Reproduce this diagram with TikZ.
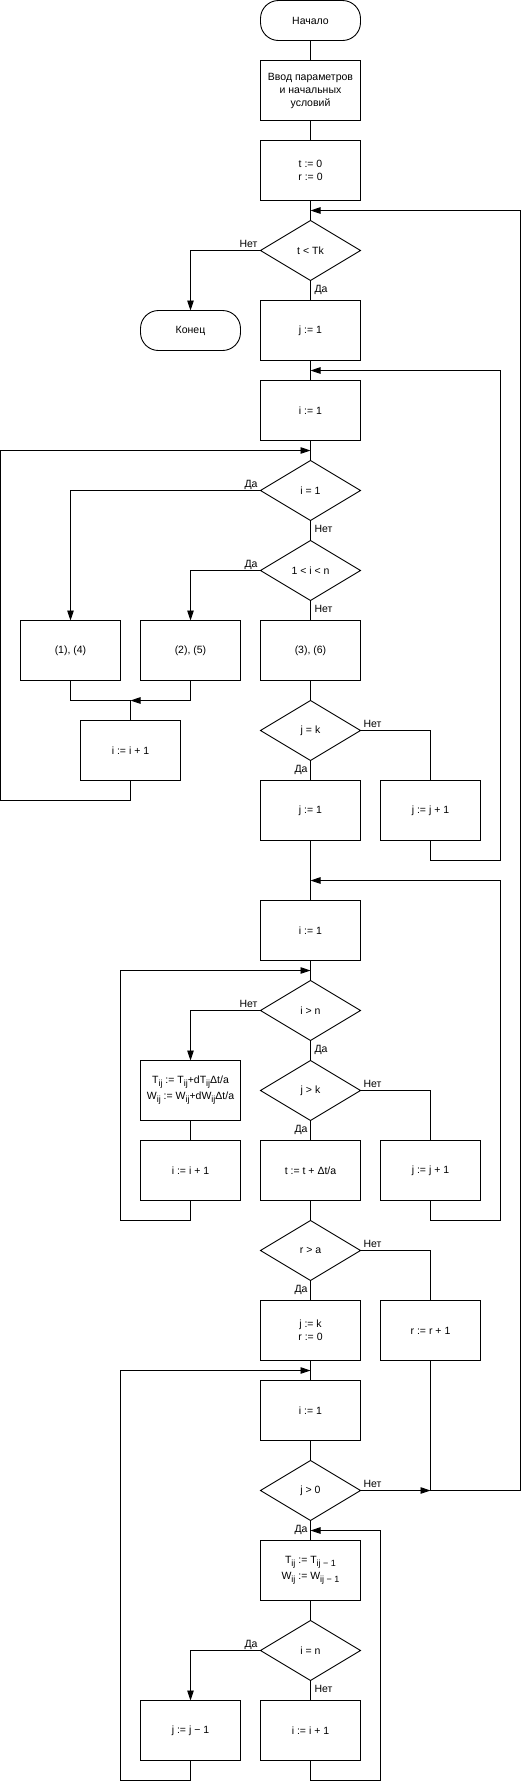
\documentclass[tikz,border=0pt]{standalone}
\usepackage{fontspec}
\setmainfont{Liberation Sans}
\usepackage{tikz}
\usetikzlibrary{arrows.meta,shapes,positioning,calc}
\usepackage{xcolor}

\newcommand{\sbs}[1]{\raisebox{-0.5ex}{\fontsize{9}{9}\selectfont #1}}

\tikzset{
  every node/.style={font=\fontsize{10.5}{13}\selectfont},
  term/.style={draw, rectangle, rounded corners=18, minimum width=100, minimum height=40, inner sep=0, outer sep=0},
  box/.style={draw, rectangle, minimum width=100, minimum height=60, inner sep=0, outer sep=0, align=center},
  cond/.style={draw, diamond, aspect=1.667, minimum width=100, minimum height=60, inner sep=0, outer sep=0},
  lbl/.style={inner sep=0, outer sep=0},
  arr/.style={-{Triangle[length=10pt,width=6.5pt]}},
}

\begin{document}
\begin{tikzpicture}[x=1pt, y=-1pt, line width=0.9pt]
    \useasboundingbox (-0.5,-0.5) rectangle (520.5,1780.5);

    % Start, input
    \node[term] (start) at (310,20) {Начало};
    \node[box] (inp) at (310,90) {Ввод параметров\\и начальных\\условий};
    \node[box] (t0) at (310,170) {t := 0\\r := 0};
    \node[cond] (d1) at (310,250) {t < Tk};
    \node[term] (fin) at (190,330) {Конец};
    \node[box] (j1) at (310,330) {j := 1};
    \node[box] (i1) at (310,410) {i := 1};

    % Inner loop over i
    \node[cond] (d2) at (310,490) {i = 1};
    \node[cond] (d3) at (310,570) {1 < i < n};
    \node[box] (b14) at (70,650) {(1), (4)};
    \node[box] (b25) at (190,650) {(2), (5)};
    \node[box] (b36) at (310,650) {(3), (6)};
    \node[box] (inc1) at (130,750) {i := i + 1};
    \node[cond] (d4) at (310,730) {j = k};
    \node[box] (j1b) at (310,810) {j := 1};
    \node[box] (jinc1) at (430,810) {j := j + 1};

    % Second pass
    \node[box] (i1b) at (310,930) {i := 1};
    \node[cond] (d5) at (310,1010) {i > n};
    \node[box] (tw) at (190,1090) {T\sbs{ij} := T\sbs{ij}+dT\sbs{ij}Δt/a\\[3pt]W\sbs{ij} := W\sbs{ij}+dW\sbs{ij}Δt/a};
    \node[cond] (d6) at (310,1090) {j > k};
    \node[box] (inc2) at (190,1170) {i := i + 1};
    \node[box] (tinc) at (310,1170) {t := t + Δt/a};
    \node[box] (jinc2) at (430,1170) {j := j + 1};
    \node[cond] (d7) at (310,1250) {r > a};
    \node[box] (jk) at (310,1330) {j := k\\r := 0};
    \node[box] (rinc) at (430,1330) {r := r + 1};

    % Shift pass
    \node[box] (i1c) at (310,1410) {i := 1};
    \node[cond] (d8) at (310,1490) {j > 0};
    \node[box] (tt) at (310,1570) {T\sbs{ij} := T\sbs{ij − 1}\\[3pt]W\sbs{ij} := W\sbs{ij − 1}};
    \node[cond] (d9) at (310,1650) {i = n};
    \node[box] (jdec) at (190,1730) {j := j − 1};
    \node[box] (inc3) at (310,1730) {i := i + 1};

    % Join points
    \coordinate (m1) at (310,210);
    \coordinate (m2) at (310,370);
    \coordinate (m3) at (310,450);
    \coordinate (mj) at (130,700);
    \coordinate (m4) at (310,880);
    \coordinate (m5) at (310,970);
    \coordinate (m6) at (310,1370);
    \coordinate (m7) at (310,1530);
    \coordinate (m8) at (430,1490);

    % Main line
    \draw (start) -- (inp);
    \draw (inp) -- (t0);
    \draw (t0) -- (d1);
    \draw (d1) -- (j1);
    \draw (j1) -- (i1);
    \draw (i1) -- (d2);
    \draw (d2) -- (d3);
    \draw (d3) -- (b36);
    \draw (b36) -- (d4);
    \draw (d4) -- (j1b);
    \draw (j1b) -- (i1b);
    \draw (i1b) -- (d5);
    \draw (d5) -- (d6);
    \draw (d6) -- (tinc);
    \draw (tinc) -- (d7);
    \draw (d7) -- (jk);
    \draw (jk) -- (i1c);
    \draw (i1c) -- (d8);
    \draw (d8) -- (tt);
    \draw (tt) -- (d9);
    \draw (d9) -- (inc3);

    % Branches
    \draw[arr] (d1.west) -| (fin.north);
    \draw[arr] (d2.west) -| (b14.north);
    \draw[arr] (d3.west) -| (b25.north);
    \draw (d4.east) -| (jinc1.north);
    \draw[arr] (d5.west) -| (tw.north);
    \draw (tw) -- (inc2);
    \draw (d6.east) -| (jinc2.north);
    \draw (d7.east) -| (rinc.north);
    \draw[arr] (d9.west) -| (jdec.north);
    \draw[arr] (d8.east) -- (m8);

    % Merge under (1),(4) and (2),(5)
    \draw (b14.south) |- (mj);
    \draw[arr] (b25.south) |- (mj);
    \draw (mj) -- (inc1.north);

    % Loops back
    \draw[arr] (inc1.south) -- ++(0,20) -- ++(-130,0) |- (m3);
    \draw[arr] (jinc1.south) -- ++(0,20) -- ++(70,0) |- (m2);
    \draw[arr] (inc2.south) -- ++(0,20) -- ++(-70,0) |- (m5);
    \draw[arr] (jinc2.south) -- ++(0,20) -- ++(70,0) |- (m4);
    \draw[arr] (rinc.south) -- (m8) -- ++(90,0) |- (m1);
    \draw[arr] (jdec.south) -- ++(0,20) -- ++(-70,0) |- (m6);
    \draw[arr] (inc3.south) -- ++(0,20) -- ++(70,0) |- (m7);

    % Branch labels
    \node[lbl, anchor=base east] (n1) at ([xshift=-3pt,yshift=3pt]d1.west) {Нет};
    \node[lbl, anchor=north west] (y1) at ([xshift=4pt,yshift=-5pt]d1.south) {Да};
    \node[lbl, anchor=base east] (y2) at ([xshift=-3pt,yshift=3pt]d2.west) {Да};
    \node[lbl, anchor=north west] (n2) at ([xshift=4pt,yshift=-5pt]d2.south) {Нет};
    \node[lbl, anchor=base east] (y3) at ([xshift=-3pt,yshift=3pt]d3.west) {Да};
    \node[lbl, anchor=north west] (n3) at ([xshift=4pt,yshift=-5pt]d3.south) {Нет};
    \node[lbl, anchor=base west] (n4) at ([xshift=3pt,yshift=3pt]d4.east) {Нет};
    \node[lbl, anchor=north east] (y4) at ([xshift=-3pt,yshift=-5pt]d4.south) {Да};
    \node[lbl, anchor=base east] (n5) at ([xshift=-3pt,yshift=3pt]d5.west) {Нет};
    \node[lbl, anchor=north west] (y5) at ([xshift=4pt,yshift=-5pt]d5.south) {Да};
    \node[lbl, anchor=base west] (n6) at ([xshift=3pt,yshift=3pt]d6.east) {Нет};
    \node[lbl, anchor=north east] (y6) at ([xshift=-3pt,yshift=-5pt]d6.south) {Да};
    \node[lbl, anchor=base west] (n7) at ([xshift=3pt,yshift=3pt]d7.east) {Нет};
    \node[lbl, anchor=north east] (y7) at ([xshift=-3pt,yshift=-5pt]d7.south) {Да};
    \node[lbl, anchor=base west] (n8) at ([xshift=3pt,yshift=3pt]d8.east) {Нет};
    \node[lbl, anchor=north east] (y8) at ([xshift=-3pt,yshift=-5pt]d8.south) {Да};
    \node[lbl, anchor=base east] (y9) at ([xshift=-3pt,yshift=3pt]d9.west) {Да};
    \node[lbl, anchor=north west] (n9) at ([xshift=4pt,yshift=-5pt]d9.south) {Нет};

\end{tikzpicture}
\end{document}
